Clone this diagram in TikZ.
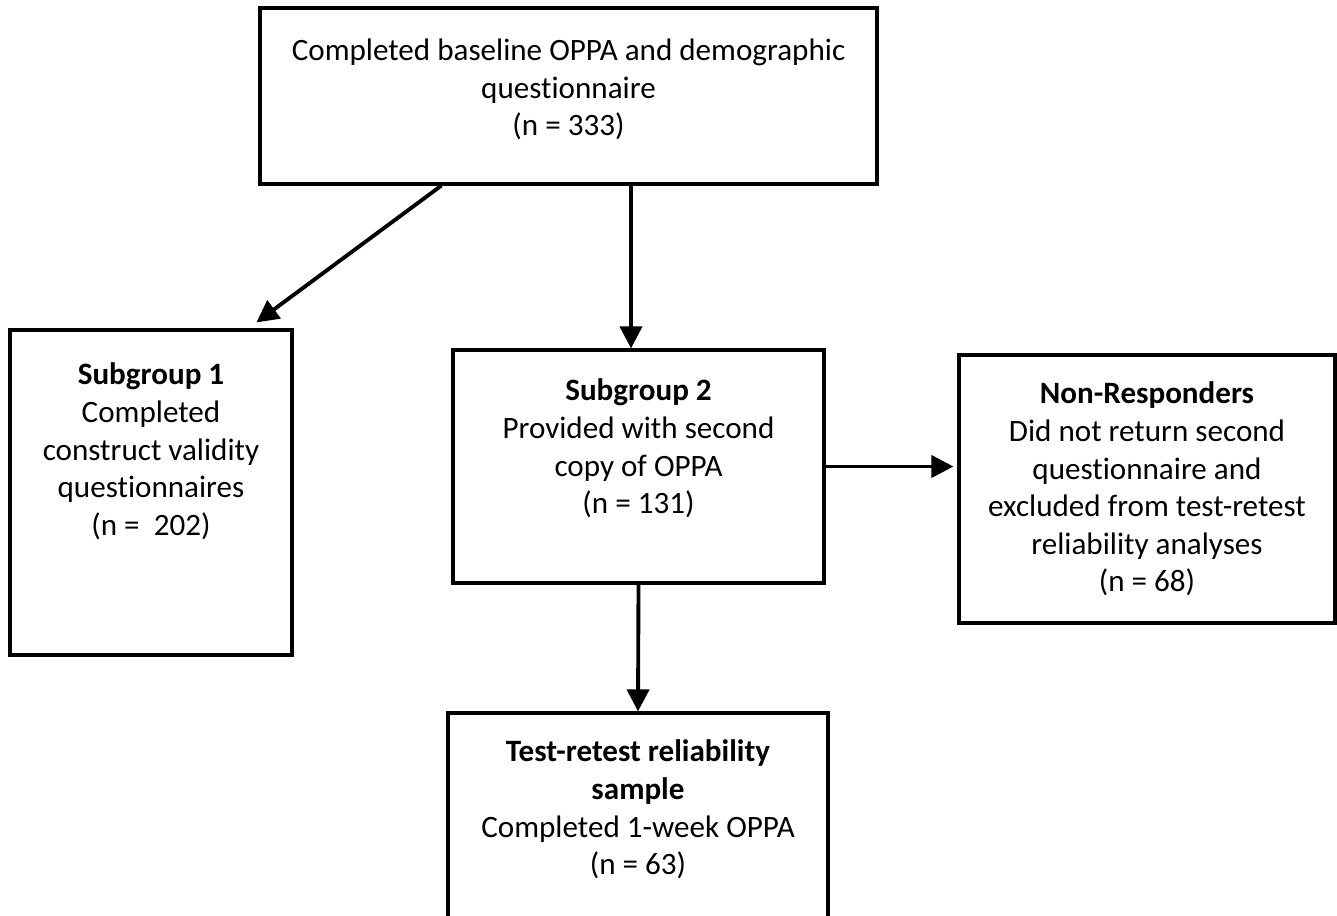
\documentclass[tikz,border=0pt]{standalone}
\usepackage{fontspec}
\setmainfont[Ligatures=NoCommon]{Carlito}
\usetikzlibrary{arrows.meta,positioning}

\begin{document}
\begin{tikzpicture}[box/.style={draw, line width=0.9pt, inner sep=0pt},
  txt/.style={align=center, inner sep=0pt, font=\fontsize{8.85}{10.7}\selectfont},
  arr/.style={-{Triangle[length=0.22cm,width=0.22cm]}, line width=1.1pt},
  node distance=0.3cm]
\useasboundingbox (0,0) rectangle (13.37,-9.15);
\clip (0,0) rectangle (13.37,-9.15);

% boxes
\node[box, minimum width=6.17cm, minimum height=1.76cm] (base) at (5.685,-0.96) {};
\node[box, minimum width=2.82cm, minimum height=3.25cm] (sub1) at (1.51,-4.925) {};
\node[box, minimum width=3.71cm, minimum height=2.33cm] (sub2) at (6.385,-4.665) {};
\node[box, minimum width=3.76cm, minimum height=2.68cm] (nonresp) at (11.47,-4.89) {};
\node[box, minimum width=3.80cm, minimum height=2.47cm] (retest) at (6.38,-8.365) {};

% texts
\node[txt, below=0.32cm of base.north] (basetxt) {Completed baseline OPPA and demographic\\questionnaire\\(n = 333)};
\node[txt, below=0.34cm of sub1.north] (sub1txt) {\textbf{Subgroup 1}\\Completed\\construct validity\\questionnaires\\(n =\ \ 202)};
\node[txt, below=0.3cm of sub2.north] (sub2txt) {\textbf{Subgroup 2}\\Provided with second\\copy of OPPA\\(n = 131)};
\node[txt, below=0.28cm of nonresp.north] (nonresptxt) {\textbf{Non-Responders}\\Did not return second\\questionnaire and\\excluded from test-retest\\reliability analyses\\(n = 68)};
\node[txt, below=0.28cm of retest.north] (retesttxt) {\textbf{Test-retest reliability}\\\textbf{sample}\\Completed 1-week OPPA\\(n = 63)};

% connectors
\draw[arr] ([xshift=1.83cm]base.south west) -- ([xshift=2.48cm, yshift=0.06cm]sub1.north west);
\draw[arr] ([xshift=0.625cm]base.south) -- ([xshift=0.625cm]base.south |- sub2.north);
\draw[arr, shorten >=0.04cm] (sub2.east) -- (nonresp.west |- sub2.east);
\draw[arr] (sub2.south) -- (retest.north);
\end{tikzpicture}
\end{document}
